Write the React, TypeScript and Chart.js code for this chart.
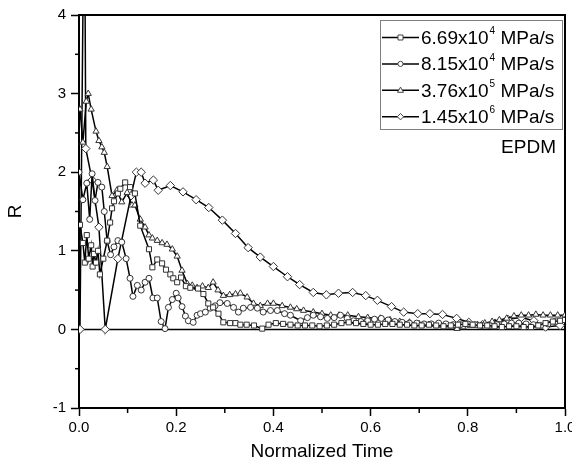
import React, { useEffect, useRef } from 'react';
import { Chart, registerables } from 'chart.js';
Chart.register(...registerables);

// ---- data ----
const seriesNames = ['6.69x10', '8.15x10', '3.76x10', '1.45x10'];
const seriesExponents = ['4', '4', '5', '6'];
const seriesUnit = ' MPa/s';
const annotation = 'EPDM';
const xTitle = 'Normalized Time';
const yTitle = 'R';

const squareX = [
  0.002, 0.008, 0.012, 0.016, 0.020, 0.025, 0.028, 0.031, 0.035, 0.039,
  0.043, 0.050, 0.058, 0.064, 0.068, 0.072, 0.080, 0.085, 0.095, 0.105,
  0.115, 0.126, 0.144, 0.151, 0.161, 0.171, 0.179, 0.188, 0.194, 0.202,
  0.210, 0.220, 0.229, 0.245, 0.256, 0.266, 0.276, 0.287, 0.297, 0.311,
  0.322, 0.332, 0.345, 0.360, 0.377, 0.390, 0.405, 0.420, 0.435, 0.450,
  0.465, 0.480, 0.495, 0.510, 0.525, 0.540, 0.555, 0.570, 0.585, 0.600,
  0.615, 0.630, 0.645, 0.660, 0.675, 0.690, 0.705, 0.720, 0.735, 0.750,
  0.765, 0.780, 0.795, 0.810, 0.825, 0.840, 0.855, 0.870, 0.885, 0.900,
  0.915, 0.930, 0.945, 0.960, 0.975, 0.990, 1.000,
];
const squareY = [
  1.33, 1.10, 0.85, 1.20, 0.90, 1.07, 0.80, 0.96, 0.85, 1.00,
  0.70, 0.90, 1.13, 1.36, 1.54, 1.63, 1.73, 1.79, 1.87, 1.81,
  1.73, 1.32, 1.02, 0.79, 0.89, 0.84, 0.76, 0.70, 0.65, 0.60,
  0.66, 0.55, 0.53, 0.52, 0.45, 0.33, 0.28, 0.20, 0.09, 0.08,
  0.08, 0.06, 0.06, 0.05, 0.01, 0.06, 0.08, 0.07, 0.06, 0.05,
  0.05, 0.05, 0.04, 0.05, 0.06, 0.08, 0.09, 0.08, 0.07, 0.06,
  0.06, 0.07, 0.07, 0.06, 0.06, 0.05, 0.05, 0.06, 0.05, 0.04,
  0.05, 0.06, 0.07, 0.06, 0.05, 0.05, 0.04, 0.03, 0.04, 0.04,
  0.03, 0.03, 0.05, 0.08, 0.10, 0.11, 0.12,
];

const circleX = [
  0.000, 0.008, 0.016, 0.022, 0.027, 0.033, 0.039, 0.047, 0.052, 0.058,
  0.065, 0.072, 0.080, 0.088, 0.097, 0.105, 0.111, 0.120, 0.128, 0.136,
  0.144, 0.152, 0.161, 0.169, 0.177, 0.184, 0.192, 0.200, 0.204, 0.212,
  0.219, 0.225, 0.235, 0.243, 0.250, 0.260, 0.270, 0.280, 0.290, 0.305,
  0.318, 0.328, 0.338, 0.353, 0.367, 0.379, 0.394, 0.408, 0.423, 0.435,
  0.456, 0.470, 0.482, 0.497, 0.511, 0.525, 0.538, 0.552, 0.565, 0.580,
  0.594, 0.608, 0.622, 0.636, 0.650, 0.665, 0.680, 0.695, 0.710, 0.725,
  0.740, 0.755, 0.770, 0.785, 0.800, 0.815, 0.830, 0.845, 0.860, 0.875,
  0.890, 0.905, 0.920, 0.935, 0.950, 0.965, 0.980, 1.000,
];
const circleY = [
  2.00, 1.65, 1.86, 1.40, 1.98, 1.64, 1.87, 1.81, 1.50, 1.12,
  0.95, 1.05, 1.13, 1.11, 0.90, 0.65, 0.42, 0.56, 0.50, 0.60,
  0.65, 0.40, 0.40, 0.10, 0.01, 0.28, 0.38, 0.46, 0.40, 0.29,
  0.17, 0.11, 0.09, 0.18, 0.20, 0.22, 0.27, 0.30, 0.34, 0.33,
  0.28, 0.22, 0.27, 0.28, 0.27, 0.22, 0.24, 0.24, 0.20, 0.18,
  0.11, 0.15, 0.18, 0.16, 0.14, 0.15, 0.18, 0.14, 0.11, 0.10,
  0.11, 0.13, 0.14, 0.12, 0.10, 0.09, 0.08, 0.08, 0.07, 0.07,
  0.08, 0.07, 0.06, 0.06, 0.07, 0.06, 0.05, 0.05, 0.06, 0.07,
  0.08, 0.08, 0.07, 0.06, 0.05, 0.07, 0.10, 0.12,
];

const triangleX = [
  0.002, 0.008, 0.015, 0.019, 0.025, 0.035, 0.041, 0.047, 0.052, 0.058,
  0.068, 0.078, 0.088, 0.099, 0.109, 0.115, 0.126, 0.136, 0.144, 0.151,
  0.161, 0.171, 0.181, 0.192, 0.202, 0.212, 0.223, 0.233, 0.243, 0.254,
  0.266, 0.276, 0.286, 0.297, 0.310, 0.322, 0.332, 0.346, 0.359, 0.373,
  0.388, 0.400, 0.418, 0.435, 0.448, 0.462, 0.482, 0.500, 0.518, 0.535,
  0.553, 0.575, 0.594, 0.620, 0.640, 0.660, 0.680, 0.700, 0.720, 0.740,
  0.760, 0.778, 0.790, 0.805, 0.820, 0.835, 0.850, 0.865, 0.880, 0.895,
  0.910, 0.925, 0.940, 0.955, 0.970, 0.985, 1.000,
];
const triangleY = [
  2.80, 2.38, 2.90, 3.00, 2.80, 2.52, 2.40, 2.32, 2.25, 2.07,
  1.70, 1.77, 1.62, 1.74, 1.58, 1.58, 1.40, 1.30, 1.20, 1.16,
  1.13, 1.10, 1.08, 1.02, 0.93, 0.75, 0.58, 0.56, 0.53, 0.55,
  0.53, 0.60, 0.50, 0.43, 0.44, 0.45, 0.46, 0.41, 0.33, 0.30,
  0.33, 0.33, 0.30, 0.28, 0.26, 0.24, 0.22, 0.20, 0.18, 0.18,
  0.18, 0.16, 0.15, 0.14, 0.12, 0.10, 0.09, 0.07, 0.06, 0.05,
  0.04, 0.01, 0.03, 0.05, 0.06, 0.08, 0.10, 0.12, 0.14, 0.17,
  0.18, 0.18, 0.19, 0.18, 0.18, 0.18, 0.18,
];

const diamondX = [
  0.002, 0.011, 0.014, 0.027, 0.041, 0.054, 0.080, 0.107, 0.118, 0.128,
  0.136, 0.153, 0.163, 0.188, 0.214, 0.241, 0.267, 0.295, 0.322, 0.348,
  0.373, 0.400, 0.429, 0.454, 0.482, 0.509, 0.534, 0.563, 0.590, 0.614,
  0.643, 0.668, 0.697, 0.722, 0.748, 0.777, 0.802, 0.830, 0.856, 0.882,
  0.910, 0.936, 0.960, 0.990,
];
const diamondY = [
  0.00, 6.00, 2.30, 1.90, 1.30, 0.00, 0.90, 1.70, 2.00, 2.00,
  1.86, 1.90, 1.77, 1.83, 1.75, 1.65, 1.55, 1.39, 1.22, 1.04,
  0.92, 0.80, 0.67, 0.57, 0.47, 0.44, 0.46, 0.47, 0.43, 0.37,
  0.29, 0.22, 0.20, 0.20, 0.19, 0.14, 0.09, 0.06, 0.08, 0.13,
  0.15, 0.11, 0.03, 0.05,
];

const seriesShapes = ['rect', 'circle', 'triangle', 'rectRot'];
const seriesRadii = [3.6, 3.0, 3.6, 4.2];

const FONT = "'Liberation Sans', Arial, Helvetica, sans-serif";

const isMajorY = (v: number) => Math.abs(v - Math.round(v)) < 1e-6;
const isMajorX = (v: number) => {
  const k = Math.round(v * 10);
  return Math.abs(v * 10 - k) < 1e-6 && k % 2 === 0;
};

const toPoints = (xs: number[], ys: number[]) => xs.map((x, i) => ({ x, y: ys[i] }));

function drawMarker(ctx: CanvasRenderingContext2D, shape: string, cx: number, cy: number) {
  ctx.beginPath();
  if (shape === 'rect') {
    ctx.rect(cx - 2.5, cy - 2.5, 5, 5);
  } else if (shape === 'circle') {
    ctx.arc(cx, cy, 2.6, 0, Math.PI * 2);
  } else if (shape === 'triangle') {
    ctx.moveTo(cx, cy - 3.2);
    ctx.lineTo(cx + 3, cy + 2);
    ctx.lineTo(cx - 3, cy + 2);
    ctx.closePath();
  } else {
    ctx.moveTo(cx, cy - 3.2);
    ctx.lineTo(cx + 3.2, cy);
    ctx.lineTo(cx, cy + 3.2);
    ctx.lineTo(cx - 3.2, cy);
    ctx.closePath();
  }
  ctx.fillStyle = '#fff';
  ctx.fill();
  ctx.strokeStyle = '#444';
  ctx.lineWidth = 1;
  ctx.stroke();
}

const framePlugin = {
  id: 'frameAndLegend',
  beforeDatasetsDraw(chart: any) {
    const { ctx, chartArea: a, scales } = chart;
    ctx.save();
    ctx.strokeStyle = '#000';
    // zero line
    const y0 = scales.y.getPixelForValue(0);
    ctx.lineWidth = 1.5;
    ctx.beginPath();
    ctx.moveTo(a.left, y0);
    ctx.lineTo(a.right, y0);
    ctx.stroke();
    // top & right frame
    ctx.lineWidth = 2;
    ctx.beginPath();
    ctx.moveTo(a.left, a.top);
    ctx.lineTo(a.right, a.top);
    ctx.lineTo(a.right, a.bottom);
    ctx.stroke();
    // minor ticks
    ctx.lineWidth = 1.5;
    scales.y.ticks.forEach((t: any) => {
      if (!isMajorY(t.value)) {
        const p = scales.y.getPixelForValue(t.value);
        ctx.beginPath();
        ctx.moveTo(a.left - 4, p);
        ctx.lineTo(a.left, p);
        ctx.stroke();
      }
    });
    scales.x.ticks.forEach((t: any) => {
      if (!isMajorX(t.value)) {
        const p = scales.x.getPixelForValue(t.value);
        ctx.beginPath();
        ctx.moveTo(p, a.bottom);
        ctx.lineTo(p, a.bottom + 5);
        ctx.stroke();
      }
    });
    ctx.restore();
  },
  afterDraw(chart: any) {
    const { ctx, chartArea: a } = chart;
    ctx.save();
    const bx = a.right - 185;
    const by = a.top + 5;
    const bw = 182;
    const bh = 109;
    ctx.fillStyle = '#fff';
    ctx.fillRect(bx, by, bw, bh);
    ctx.strokeStyle = '#808080';
    ctx.lineWidth = 1;
    ctx.strokeRect(bx + 0.5, by + 0.5, bw, bh);
    for (let i = 0; i < seriesNames.length; i++) {
      const ry = by + 17.5 + i * 26.4;
      ctx.strokeStyle = '#000';
      ctx.lineWidth = 1.5;
      ctx.beginPath();
      ctx.moveTo(bx + 2, ry);
      ctx.lineTo(bx + 39, ry);
      ctx.stroke();
      drawMarker(ctx, seriesShapes[i], bx + 20.5, ry);
      ctx.fillStyle = '#000';
      ctx.textBaseline = 'middle';
      ctx.textAlign = 'left';
      ctx.font = `19px ${FONT}`;
      let tx = bx + 41;
      ctx.fillText(seriesNames[i], tx, ry + 1);
      tx += ctx.measureText(seriesNames[i]).width + 1;
      ctx.font = `10px ${FONT}`;
      ctx.fillText(seriesExponents[i], tx, ry - 6);
      tx += ctx.measureText(seriesExponents[i]).width;
      ctx.font = `19px ${FONT}`;
      ctx.fillText(seriesUnit, tx, ry + 1);
    }
    ctx.font = `19px ${FONT}`;
    ctx.textAlign = 'right';
    ctx.textBaseline = 'middle';
    ctx.fillStyle = '#000';
    ctx.fillText(annotation, a.right - 9, by + 128);
    ctx.restore();
  },
};

export default function App() {
  const ref = useRef<HTMLCanvasElement>(null);
  useEffect(() => {
    document.body.style.margin = '0';
    const mkDs = (xs: number[], ys: number[], i: number) => ({
      label: seriesNames[i] + seriesExponents[i] + seriesUnit,
      data: toPoints(xs, ys),
      borderColor: '#000',
      borderWidth: 1.5,
      pointStyle: seriesShapes[i],
      pointRadius: seriesRadii[i],
      pointBackgroundColor: '#fff',
      pointBorderColor: '#333',
      pointBorderWidth: 1,
      tension: 0,
      fill: false,
    });
    const chart = new Chart(ref.current as HTMLCanvasElement, {
      type: 'line',
      data: {
        datasets: [
          mkDs(squareX, squareY, 0),
          mkDs(circleX, circleY, 1),
          mkDs(triangleX, triangleY, 2),
          mkDs(diamondX, diamondY, 3),
        ],
      },
      options: {
        responsive: false,
        animation: false,
        devicePixelRatio: 1,
        layout: { padding: { top: 15, right: 7, left: 0, bottom: 0 } },
        plugins: { legend: { display: false }, tooltip: { enabled: false } },
        scales: {
          x: {
            type: 'linear',
            min: 0,
            max: 1,
            afterFit: (s: any) => {
              s.height = 59;
              s.paddingLeft = 0;
              s.paddingRight = 0;
            },
            border: { display: true, color: '#000', width: 2 },
            grid: {
              display: true,
              drawOnChartArea: false,
              drawTicks: true,
              tickLength: 8,
              tickWidth: 1.5,
              tickColor: (c: any) => (c.tick && isMajorX(c.tick.value) ? '#000' : 'rgba(0,0,0,0)'),
            },
            ticks: {
              stepSize: 0.1,
              autoSkip: false,
              maxRotation: 0,
              padding: 3,
              color: '#000',
              font: { family: FONT, size: 15 },
              callback: (v: any) => (isMajorX(Number(v)) ? Number(v).toFixed(1) : ''),
            },
            title: {
              display: true,
              text: xTitle,
              color: '#000',
              font: { family: FONT, size: 19 },
              padding: { top: 0, bottom: 4 },
            },
          },
          y: {
            type: 'linear',
            min: -1,
            max: 4,
            afterFit: (s: any) => {
              s.width = 79;
            },
            border: { display: true, color: '#000', width: 2 },
            grid: {
              display: true,
              drawOnChartArea: false,
              drawTicks: true,
              tickLength: 8,
              tickWidth: 1.5,
              tickColor: (c: any) => (c.tick && isMajorY(c.tick.value) ? '#000' : 'rgba(0,0,0,0)'),
            },
            ticks: {
              stepSize: 0.5,
              autoSkip: false,
              padding: 5,
              color: '#000',
              font: { family: FONT, size: 15 },
              callback: (v: any) => (isMajorY(Number(v)) ? String(Math.round(Number(v))) : ''),
            },
            title: {
              display: true,
              text: yTitle,
              color: '#000',
              font: { family: FONT, size: 19 },
              padding: { top: 4, bottom: 0 },
            },
          },
        },
      },
      plugins: [framePlugin],
    } as any);
    return () => chart.destroy();
  }, []);
  return (
    <div style={{ position: 'fixed', left: 0, top: 0, width: 572, height: 467, background: '#fff' }}>
      <canvas ref={ref} width={572} height={467} style={{ display: 'block', width: 572, height: 467 }} />
    </div>
  );
}
